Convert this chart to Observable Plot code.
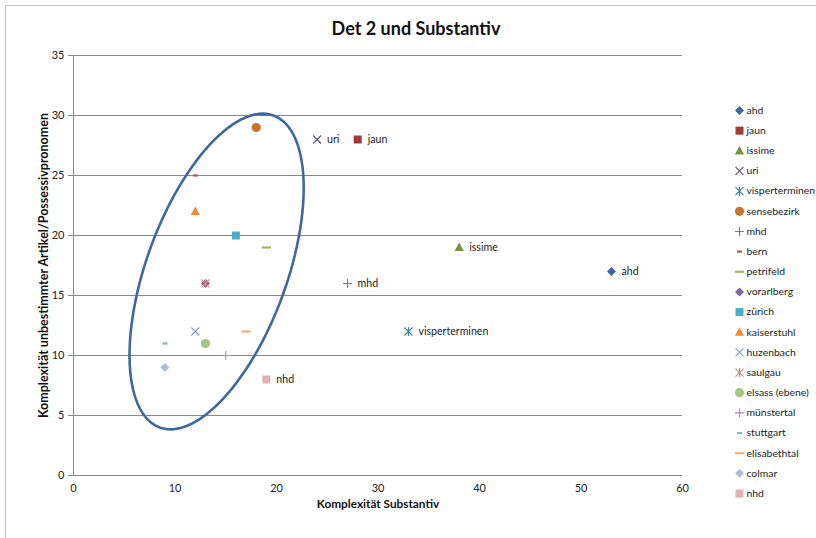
<!DOCTYPE html>
<html>
<head>
<meta charset="utf-8">
<script src="https://cdn.jsdelivr.net/npm/d3@7"></script>
<script src="https://cdn.jsdelivr.net/npm/@observablehq/plot@0.6"></script>
<style>
  body { margin: 0; background: #fff; }
  #chart { position: relative; width: 816px; height: 538px; overflow: hidden; font-family: Lato, "Open Sans", sans-serif; }
  #border { position: absolute; left: 5px; top: 5px; width: 900px; height: 900px; border-left: 1px solid #c0c0c0; border-top: 1px solid #c0c0c0; }
  #title { position: relative; width: 832px; height: 45px; box-sizing: border-box; padding-top: 17px; line-height: 22px; text-align: center; font-weight: bold; font-size: 18px; color: #111; }
  #main { position: relative; }
  #legend { position: absolute; left: 728px; top: 90px; width: 120px; line-height: 0; }
  svg { max-width: none !important; }
</style>
</head>
<body>
<div id="chart">
  <div id="border"></div>
  <div id="title">Det 2 und Substantiv</div>
  <div id="main"></div>
  <div id="legend"></div>
</div>
<script>
// ---- data ----
const seriesNames = ["ahd","jaun","issime","uri","visperterminen","sensebezirk","mhd","bern","petrifeld","vorarlberg","zürich","kaiserstuhl","huzenbach","saulgau","elsass (ebene)","münstertal","stuttgart","elisabethtal","colmar","nhd"];
const xValues = [53, 28, 38, 24, 33, 18, 27, 12, 19, 13, 16, 12, 12, 13, 13, 15, 9, 17, 9, 19];
const yValues = [17, 28, 19, 28, 12, 29, 16, 25, 19, 16, 20, 22, 12, 16, 11, 10, 11, 12, 9, 8];
const markerShapes = ["diamond","square","triangle","times","asterisk","circle","plus","dashShort","dashLong","diamond","square","triangle","times","asterisk","circle","plus","dashShort","dashLong","diamond","square"];
const seriesColors = ["#3B67A1","#A13B38","#77933C","#5F4B7A","#2F89A0","#C7752F","#4F81BD","#C0504D","#9BBB59","#8064A2","#4BACC6","#F28C38","#7F9DCF","#E0817D","#A8C67C","#9D89BE","#6FBDD3","#F9AD73","#ABBEDD","#DFB0AF"];
const labelledSeries = ["ahd","jaun","issime","uri","visperterminen","mhd","nhd"];
const xTicks = [0, 10, 20, 30, 40, 50, 60];
const yTicks = [0, 5, 10, 15, 20, 25, 30, 35];
const xTitle = "Komplexität Substantiv";
const yTitle = "Komplexität unbestimmter Artikel/Possessivpronomen";
// hand-drawn ellipse annotation (data units): centre and two semi-axis vectors
const ellipseCenter = [14.1, 17.0];
const ellipseAxisA = [5.6, 13.0];
const ellipseAxisB = [6.5, -2.0];

// ---- build ----
const points = seriesNames.map((name, i) => ({name, index: i, x: xValues[i], y: yValues[i], shape: markerShapes[i], color: seriesColors[i]}));

const SYMBOLS = {
  diamond: {draw(c) { c.moveTo(0,-4.5); c.lineTo(4.5,0); c.lineTo(0,4.5); c.lineTo(-4.5,0); c.closePath(); }},
  square: {draw(c) { c.rect(-4,-4,8,8); }},
  triangle: {draw(c) { c.moveTo(0,-5); c.lineTo(4.6,3.6); c.lineTo(-4.6,3.6); c.closePath(); }},
  times: {draw(c) { c.moveTo(-4,-4); c.lineTo(4,4); c.moveTo(4,-4); c.lineTo(-4,4); }},
  asterisk: {draw(c) { c.moveTo(-4,-4); c.lineTo(4,4); c.moveTo(4,-4); c.lineTo(-4,4); c.moveTo(0,-4.5); c.lineTo(0,4.5); }},
  circle: {draw(c) { c.moveTo(4.6,0); c.arc(0,0,4.6,0,2*Math.PI); }},
  plus: {draw(c) { c.moveTo(-4.5,0); c.lineTo(4.5,0); c.moveTo(0,-4.5); c.lineTo(0,4.5); }},
  dashShort: {draw(c) { c.rect(-2.5,-1.1,5,2.2); }},
  dashLong: {draw(c) { c.rect(-4.6,-1.1,9.2,2.2); }}
};
const STROKED = new Set(["times","asterisk","plus"]);

function markerMark(p, opts) {
  const stroked = STROKED.has(p.shape);
  return Plot.dot([p], {
    ...opts,
    symbol: SYMBOLS[p.shape],
    fill: stroked ? "none" : p.color,
    stroke: stroked ? p.color : "none",
    strokeWidth: 1.1
  });
}

const ellipsePts = d3.range(0, 361, 3).map(deg => {
  const t = deg * Math.PI / 180;
  return {
    x: ellipseCenter[0] + ellipseAxisA[0] * Math.cos(t) + ellipseAxisB[0] * Math.sin(t),
    y: ellipseCenter[1] + ellipseAxisA[1] * Math.cos(t) + ellipseAxisB[1] * Math.sin(t)
  };
});

const gray = "#878787";
const main = Plot.plot({
  width: 700,
  height: 493,
  marginLeft: 73,
  marginRight: 18,
  marginTop: 10,
  marginBottom: 63,
  style: {fontFamily: "Lato, 'Open Sans', sans-serif", fontSize: "11px", color: "#222", background: "transparent", overflow: "visible"},
  x: {domain: [0, 60]},
  y: {domain: [0, 35]},
  marks: [
    Plot.gridY(yTicks.slice(1), {stroke: gray, strokeOpacity: 1}),
    Plot.ruleY([0], {stroke: gray}),
    Plot.ruleX([0], {stroke: gray}),
    Plot.axisY(yTicks, {tickSize: 5, tickPadding: 4, stroke: gray, label: null, fill: "#222"}),
    Plot.axisX(xTicks, {tickSize: 0, tickPadding: 9, label: null, fill: "#222"}),
    Plot.text([yTitle], {frameAnchor: "left", dx: -30, rotate: -90, textAnchor: "middle", fontWeight: "bold", fontSize: 12.5, fill: "#111", style: "letter-spacing:1.1px"}),
    Plot.text([xTitle], {frameAnchor: "bottom", dy: 32, textAnchor: "middle", fontWeight: "bold", fontSize: 11.8, fill: "#111"}),
    Plot.line(ellipsePts, {x: "x", y: "y", stroke: "#3E699D", strokeWidth: 2.6}),
    ...points.map(p => markerMark(p, {x: "x", y: "y"})),
    Plot.text(points.filter(p => labelledSeries.includes(p.name)), {x: "x", y: "y", text: "name", dx: 10, textAnchor: "start", fontSize: 10.6, fill: "#222"})
  ]
});
document.getElementById("main").appendChild(main);

const legend = Plot.plot({
  width: 90,
  height: 430,
  margin: 0,
  style: {fontFamily: "Lato, 'Open Sans', sans-serif", fontSize: "11px", color: "#222", background: "transparent", overflow: "visible", maxWidth: "none"},
  y: {type: "linear", domain: [0, seriesNames.length - 1], range: [20, 403], axis: null},
  marks: [
    ...points.map(p => markerMark(p, {y: "index", frameAnchor: "left", dx: 11})),
    Plot.text(points, {y: "index", text: "name", frameAnchor: "left", dx: 18, textAnchor: "start", fontSize: 10.4, fill: "#222"})
  ]
});
document.getElementById("legend").appendChild(legend);
</script>
</body>
</html>
